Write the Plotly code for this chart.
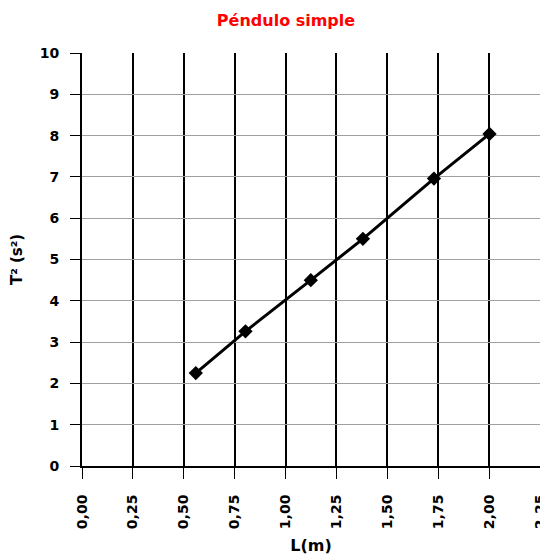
import plotly.graph_objects as go

L_m = [0.559, 0.803, 1.124, 1.380, 1.729, 2.002]
T2_s2 = [2.25, 3.26, 4.50, 5.50, 6.96, 8.04]

x_ticks = [0, 0.25, 0.5, 0.75, 1.0, 1.25, 1.5, 1.75, 2.0, 2.25]
x_tick_labels = ["0,00", "0,25", "0,50", "0,75", "1,00", "1,25", "1,50", "1,75", "2,00", "2,25"]
y_ticks = [0, 1, 2, 3, 4, 5, 6, 7, 8, 9, 10]

# page body has an 8px margin: shift everything by 8px
OFF = 8

fig = go.Figure()
fig.add_trace(go.Scatter(
    x=L_m, y=T2_s2, mode="lines+markers",
    line=dict(color="black", width=3),
    marker=dict(symbol="diamond", size=11, color="black"),
    showlegend=False,
    cliponaxis=False,
))

fig.update_layout(
    width=548 - OFF, height=559 - OFF,
    margin=dict(l=82 - OFF, r=8, t=53 - OFF, b=93),
    paper_bgcolor="white", plot_bgcolor="white",
    title=dict(text="<b>Péndulo simple</b>", x=(286 - OFF) / (548 - OFF), xref="container", xanchor="center",
               y=1 - (20 - OFF) / (559 - OFF), yref="container", yanchor="middle",
               font=dict(family="DejaVu Sans", size=16, color="#ff0000")),
    xaxis=dict(
        range=[0, 2.25], tickvals=x_ticks, ticktext=x_tick_labels, tickangle=-90,
        showgrid=True, gridcolor="black", gridwidth=2,
        showline=True, linecolor="black", linewidth=2,
        ticks="outside", ticklen=11, tickcolor="black", tickwidth=1,
        ticklabelstandoff=10, ticklabeloverflow="allow", automargin=False,
        tickfont=dict(family="DejaVu Sans", size=14, color="black", weight="bold"),
        title=dict(text="<b>L(m)</b>", font=dict(family="DejaVu Sans", size=16, color="black"), standoff=12),
        zeroline=False,
    ),
    yaxis=dict(
        range=[0, 10], tickvals=y_ticks,
        showgrid=True, gridcolor="#a0a0a0", gridwidth=1,
        showline=True, linecolor="black", linewidth=2, mirror=True,
        ticks="outside", ticklen=10, tickcolor="black", tickwidth=1,
        ticklabelstandoff=8, automargin=False,
        tickfont=dict(family="DejaVu Sans", size=14, color="black", weight="bold"),
        title=dict(text="<b>T² (s²)</b>", font=dict(family="DejaVu Sans", size=15, color="black"), standoff=14),
        zeroline=False,
    ),
)

fig.write_html("out.html")
